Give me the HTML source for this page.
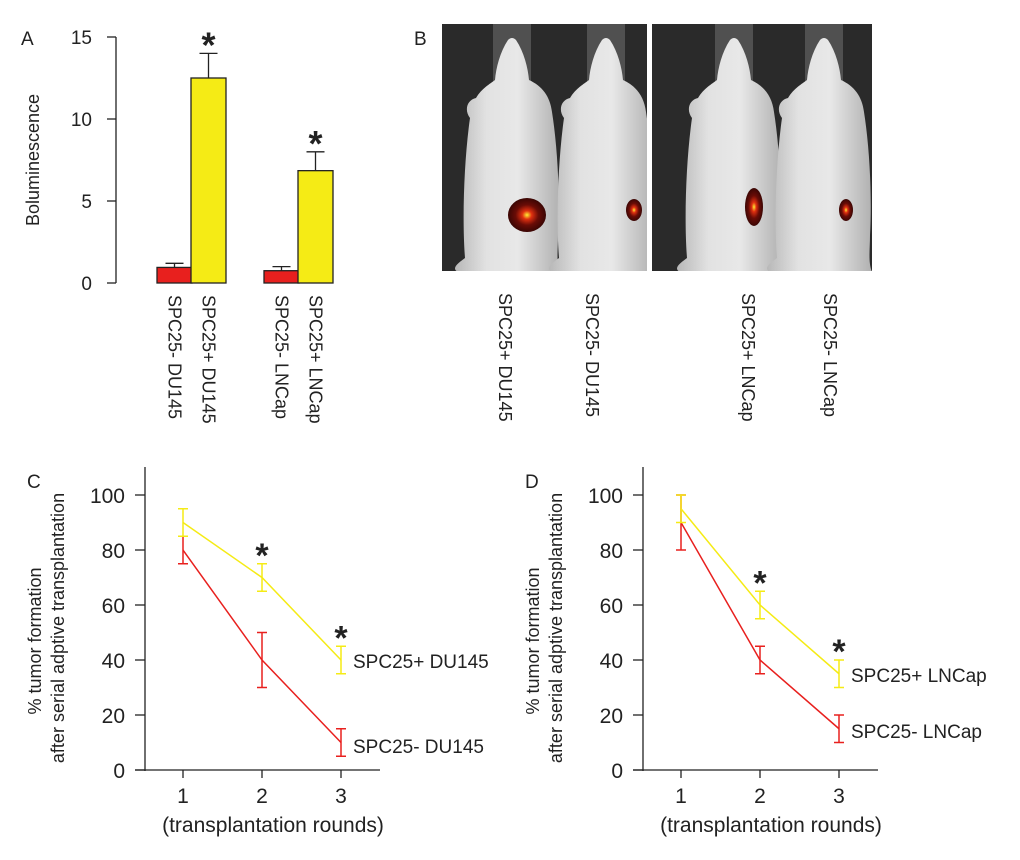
<!DOCTYPE html>
<html><head><meta charset="utf-8">
<style>
html,body{margin:0;padding:0;background:#fff;}
svg{display:block;font-family:"Liberation Sans",Arial,sans-serif;}
</style></head>
<body>
<svg id="fig" width="1020" height="860" viewBox="0 0 1020 860">
<defs>
<radialGradient id="glow" cx="50%" cy="50%" r="50%">
<stop offset="0" stop-color="#ffee33"/><stop offset="0.25" stop-color="#e03010"/><stop offset="0.6" stop-color="#6a0c06"/><stop offset="1" stop-color="#3a0604"/>
</radialGradient>
<linearGradient id="bodyg" x1="0" x2="1" y1="0" y2="0">
<stop offset="0" stop-color="#b8b8b8"/><stop offset="0.3" stop-color="#e2e2e2"/><stop offset="0.6" stop-color="#e8e8e8"/><stop offset="1" stop-color="#b0b0b0"/>
</linearGradient>
<clipPath id="clip1"><rect x="442" y="24" width="205" height="247"/></clipPath>
<clipPath id="clip2"><rect x="652" y="24" width="220" height="247"/></clipPath>
</defs>
<g id="panelA"></g>
<g id="panelB"></g>
<g id="panelC"></g>
<g id="panelD"></g>
</svg>
<script>
// Panel A data
const barCategories = ["SPC25- DU145","SPC25+ DU145","SPC25- LNCap","SPC25+ LNCap"];
const barValues = [0.95, 12.5, 0.75, 6.85];
const barErrors = [0.25, 1.5, 0.25, 1.15];
const barSignif = [false, true, false, true];
const barTicks = [0,5,10,15];
// Panel B labels
const imgLabels = ["SPC25+ DU145","SPC25- DU145","SPC25+ LNCap","SPC25- LNCap"];
// Panel C data
const roundsC = [1,2,3];
const cPlus = [90,70,40];
const cPlusErr = [5,5,5];
const cMinus = [80,40,10];
const cMinusErr = [5,10,5];
const cSignif = [false,true,true];
// Panel D data
const roundsD = [1,2,3];
const dPlus = [95,60,35];
const dPlusErr = [5,5,5];
const dMinus = [90,40,15];
const dMinusErr = [10,5,5];
const dSignif = [false,true,true];
const lineTicks = [0,20,40,60,80,100];

const NS="http://www.w3.org/2000/svg";
function mk(parent,tag,attrs,text){const e=document.createElementNS(NS,tag);for(const k in attrs)e.setAttribute(k,attrs[k]);if(text!==undefined)e.textContent=text;parent.appendChild(e);return e;}

// ---- Panel A
(function(){
const g=document.getElementById('panelA');
const y=v=>283-v*(246/15);
const barX=[157,191,264,298], bw=35;
const fills=["#e8201e","#f5eb15","#e8201e","#f5eb15"];
let t=mk(g,'text',{x:21,y:45,'font-size':19,fill:'#222'});t.textContent='A';


mk(g,'line',{x1:116,y1:y(15),x2:116,y2:y(0),stroke:'#222','stroke-width':1.3});
barTicks.forEach(v=>{
 const l=mk(g,'line',{x1:107,y1:y(v),x2:116,y2:y(v),stroke:'#222','stroke-width':1.3});
 
 
 const tx=mk(g,'text',{x:92,y:y(v)+7,'font-size':19,'text-anchor':'end',fill:'#222'},String(v));
 
 
});
const yt=mk(g,'text',{x:0,y:0,'font-size':18,'text-anchor':'middle',transform:'translate(39,160) rotate(-90)',fill:'#222'},'Boluminescence');


barValues.forEach((v,i)=>{
 const x=barX[i], cx=x+bw/2;
 const e=mk(g,'line',{x1:cx,y1:y(v+barErrors[i]),x2:cx,y2:y(v),stroke:'#222','stroke-width':1.3});
 
 
 const c=mk(g,'line',{x1:cx-9,y1:y(v+barErrors[i]),x2:cx+9,y2:y(v+barErrors[i]),stroke:'#222','stroke-width':1.3});
 
 
 const r=mk(g,'rect',{x:x,y:y(v),width:bw,height:y(0)-y(v),fill:fills[i],stroke:'#222','stroke-width':1.3});
 
 
 if(barSignif[i]){
  const s=mk(g,'text',{x:cx,y:y(v+barErrors[i])+4,'font-size':36,'font-weight':'bold','text-anchor':'middle',fill:'#222'},'*');
  
  
 }
 const lb=mk(g,'text',{x:0,y:0,'font-size':18,fill:'#222',transform:`translate(${cx-6},295) rotate(90)`},barCategories[i]);
 
 
});
})();

// ---- Panel B
(function(){
const g=document.getElementById('panelB');
let t=mk(g,'text',{x:414,y:45,'font-size':19,fill:'#222'},'B');


const boxes=[[442,24,205,247],[652,24,220,247]];
boxes.forEach((b,i)=>{
 const r=mk(g,'rect',{x:b[0],y:b[1],width:b[2],height:b[3],fill:'#2a2a2a'});
 
 
});
const mice=[512,606,734,824];
const spots=[[527,215,19,17],[634,210,8,11],[754,207,9,19],[846,210,7,11]];
mice.forEach((cx,i)=>{
 const cg=mk(g,'g',{'clip-path':i<2?'url(#clip1)':'url(#clip2)'});
 const tube=mk(cg,'rect',{x:cx-19,y:24,width:38,height:58,fill:'#5a5a5a',opacity:0.8});
 
 
 const p=`M${cx-4},40 Q${cx},36 ${cx+4},40 C${cx+12},52 ${cx+16},68 ${cx+17},80 C${cx+30},86 ${cx+38},96 ${cx+40},112 C${cx+46},150 ${cx+48},200 ${cx+46},235 C${cx+46},250 ${cx+44},262 ${cx+48},272 L${cx-54},272 C${cx-62},268 ${cx-52},262 ${cx-47},258 C${cx-50},220 ${cx-48},160 ${cx-42},118 C${cx-48},110 ${cx-45},100 ${cx-36},98 C${cx-30},88 ${cx-22},84 ${cx-17},80 C${cx-16},68 ${cx-12},52 ${cx-4},40 Z`;
 const m=mk(cg,'path',{d:p,fill:'url(#bodyg)'});
 
 
 const s=spots[i];
 const sp=mk(cg,'ellipse',{cx:s[0],cy:s[1],rx:s[2],ry:s[3],fill:'url(#glow)'});
 
 
});
const lx=[505,592,748,830];
imgLabels.forEach((l,i)=>{
 const lb=mk(g,'text',{x:0,y:0,'font-size':18,fill:'#222',transform:`translate(${lx[i]-6},293) rotate(90)`},l);
 
 
});
})();

// ---- Line panels
function linePanel(id,letter,ox,rounds,plus,plusE,minus,minusE,sig,plusLbl,minusLbl,lblY){
const g=document.getElementById(id);
const ax=ox;
const y=v=>770-v*2.75;
const x=r=>ax+38+(r-1)*79;
let t=mk(g,'text',{x:ax-118,y:488,'font-size':19,fill:'#222'},letter);


const ya=mk(g,'line',{x1:ax,y1:467,x2:ax,y2:771,stroke:'#222','stroke-width':1.3});


const xa=mk(g,'line',{x1:ax-10,y1:770,x2:ax+235,y2:770,stroke:'#222','stroke-width':1.3});


lineTicks.forEach(v=>{
 const l=mk(g,'line',{x1:ax-10,y1:y(v),x2:ax,y2:y(v),stroke:'#222','stroke-width':1.3});
 
 
 const tx=mk(g,'text',{x:ax-20,y:y(v)+8,'font-size':21,'text-anchor':'end',fill:'#222'},String(v));
 
 
});
rounds.forEach(r=>{
 const l=mk(g,'line',{x1:x(r),y1:770,x2:x(r),y2:778,stroke:'#222','stroke-width':1.3});
 
 
 const tx=mk(g,'text',{x:x(r),y:803,'font-size':21,'text-anchor':'middle',fill:'#222'},String(r));
 
 
});
const xt=mk(g,'text',{x:ax+128,y:832,'font-size':21,'text-anchor':'middle',fill:'#222'},'(transplantation rounds)');


const y1=mk(g,'text',{x:0,y:0,'font-size':18,'text-anchor':'middle',fill:'#222',transform:`translate(${ax-104},641) rotate(-90)`},'% tumor formation');


const y2=mk(g,'text',{x:0,y:0,'font-size':18,'text-anchor':'middle',fill:'#222',transform:`translate(${ax-81},628) rotate(-90)`},'after serial adptive transplantation');


function series(vals,errs,col,name){
 const pl=mk(g,'polyline',{points:vals.map((v,i)=>x(rounds[i])+','+y(v)).join(' '),fill:'none',stroke:col,'stroke-width':1.5});
 
 
 vals.forEach((v,i)=>{
  const cx=x(rounds[i]);
  const e=mk(g,'path',{d:`M${cx},${y(v+errs[i])}V${y(v-errs[i])}M${cx-5},${y(v+errs[i])}H${cx+5}M${cx-5},${y(v-errs[i])}H${cx+5}`,stroke:col,'stroke-width':1.5,fill:'none'});
  
  
 });
}
series(minus,minusE,'#e8201e','spc25-minus');
series(plus,plusE,'#f5eb15','spc25-plus');
sig.forEach((s,i)=>{if(s){
 const st=mk(g,'text',{x:x(rounds[i]),y:y(plus[i]+plusE[i])+3,'font-size':34,'font-weight':'bold','text-anchor':'middle',fill:'#222'},'*');
 
 
}});
const a=mk(g,'text',{x:x(3)+12,y:lblY[0],'font-size':19,fill:'#222'},plusLbl);


const b=mk(g,'text',{x:x(3)+12,y:lblY[1],'font-size':19,fill:'#222'},minusLbl);


}
linePanel('panelC','C',145,roundsC,cPlus,cPlusErr,cMinus,cMinusErr,cSignif,'SPC25+ DU145','SPC25- DU145',[668,753]);
linePanel('panelD','D',643,roundsD,dPlus,dPlusErr,dMinus,dMinusErr,dSignif,'SPC25+ LNCap','SPC25- LNCap',[682,738]);
</script>
</body></html>
